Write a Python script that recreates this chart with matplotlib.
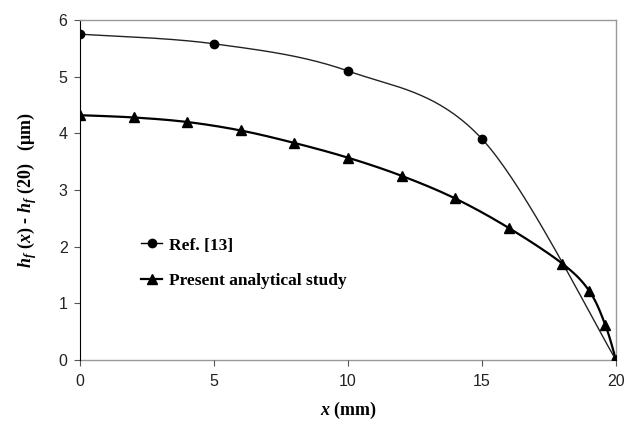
import numpy as np
import matplotlib
matplotlib.use("Agg")
import matplotlib.pyplot as plt
from matplotlib.lines import Line2D

# ================= DATA =================
ref_x = [0, 5, 10, 15, 20]
ref_y = [5.75, 5.58, 5.10, 3.90, 0.0]

study_x = [0, 2, 4, 6, 8, 10, 12, 14, 16, 18, 19, 19.6, 20]
study_y = [4.32, 4.28, 4.20, 4.05, 3.83, 3.57, 3.25, 2.85, 2.33, 1.70, 1.22, 0.62, 0.0]

x_ticks = [0, 5, 10, 15, 20]
y_ticks = [0, 1, 2, 3, 4, 5, 6]


# Excel-like smoothed line (Catmull-Rom through the points)
def smooth(xs, ys, n=40):
    p = np.column_stack([xs, ys]).astype(float)
    p = np.vstack([p[0], p, p[-1]])
    out = []
    for i in range(1, len(p) - 2):
        p0, p1, p2, p3 = p[i - 1], p[i], p[i + 1], p[i + 2]
        c1 = p1 + (p2 - p0) / 6
        c2 = p2 - (p3 - p1) / 6
        t = np.linspace(0, 1, n)[:, None]
        seg = ((1 - t) ** 3) * p1 + 3 * ((1 - t) ** 2) * t * c1 \
            + 3 * (1 - t) * t ** 2 * c2 + t ** 3 * p2
        out.append(seg)
    out = np.vstack(out)
    return out[:, 0], out[:, 1]


# ================= STYLE =================
plt.rcParams["font.family"] = "Liberation Sans"
plt.rcParams["mathtext.fontset"] = "custom"
plt.rcParams["mathtext.rm"] = "Liberation Serif:bold"
plt.rcParams["mathtext.it"] = "Liberation Serif:italic:bold"
plt.rcParams["mathtext.bf"] = "Liberation Serif:bold"

fig = plt.figure(figsize=(6.32, 4.21), dpi=100)
ax = fig.add_axes([0.1266, 0.1449, 0.8481, 0.8076])

# ================= PLOT =================
sx, sy = smooth(ref_x, ref_y)
ax.plot(sx, sy, color="#222222", lw=1.0, zorder=2)
ax.plot(ref_x, ref_y, "o", color="black", ms=6, zorder=3)

sx2, sy2 = smooth(study_x, study_y)
ax.plot(sx2, sy2, color="black", lw=1.6, zorder=2)
ax.plot(study_x, study_y, "^", color="black", ms=7, zorder=3)

ax.set_xlim(0, 20)
ax.set_ylim(0, 6)
ax.set_xticks(x_ticks)
ax.set_yticks(y_ticks)
ax.tick_params(axis="both", labelsize=11.5, length=4, width=0.8,
               direction="out", colors="#555555", labelcolor="#222222")
ax.tick_params(axis="x", pad=6)
ax.tick_params(axis="y", pad=5)

for s in ["top", "right", "bottom"]:
    ax.spines[s].set_color("#999999")
    ax.spines[s].set_linewidth(1.0)
ax.spines["left"].set_color("black")
ax.spines["left"].set_linewidth(0.8)
ax.spines["bottom"].set_zorder(1)

ax.set_xlabel(r"$x$ (mm)", fontsize=13, family="Liberation Serif",
              fontweight="bold", labelpad=8)
ax.set_ylabel(r"$h_f$ ($x$) - $h_f$ (20)   (μm)", fontsize=13,
              family="Liberation Serif", fontweight="bold", labelpad=14)

handles = [
    Line2D([], [], color="black", lw=1.0, marker="o", ms=6),
    Line2D([], [], color="black", lw=1.6, marker="^", ms=7),
]
ax.legend(handles, ["Ref. [13]", "Present analytical study"],
          loc="center left", bbox_to_anchor=(0.085, 0.285), frameon=False,
          handlelength=1.2, handletextpad=0.4, labelspacing=1.1,
          prop={"family": "Liberation Serif", "weight": "bold", "size": 12.5})

fig.savefig("out.png", dpi=100)
